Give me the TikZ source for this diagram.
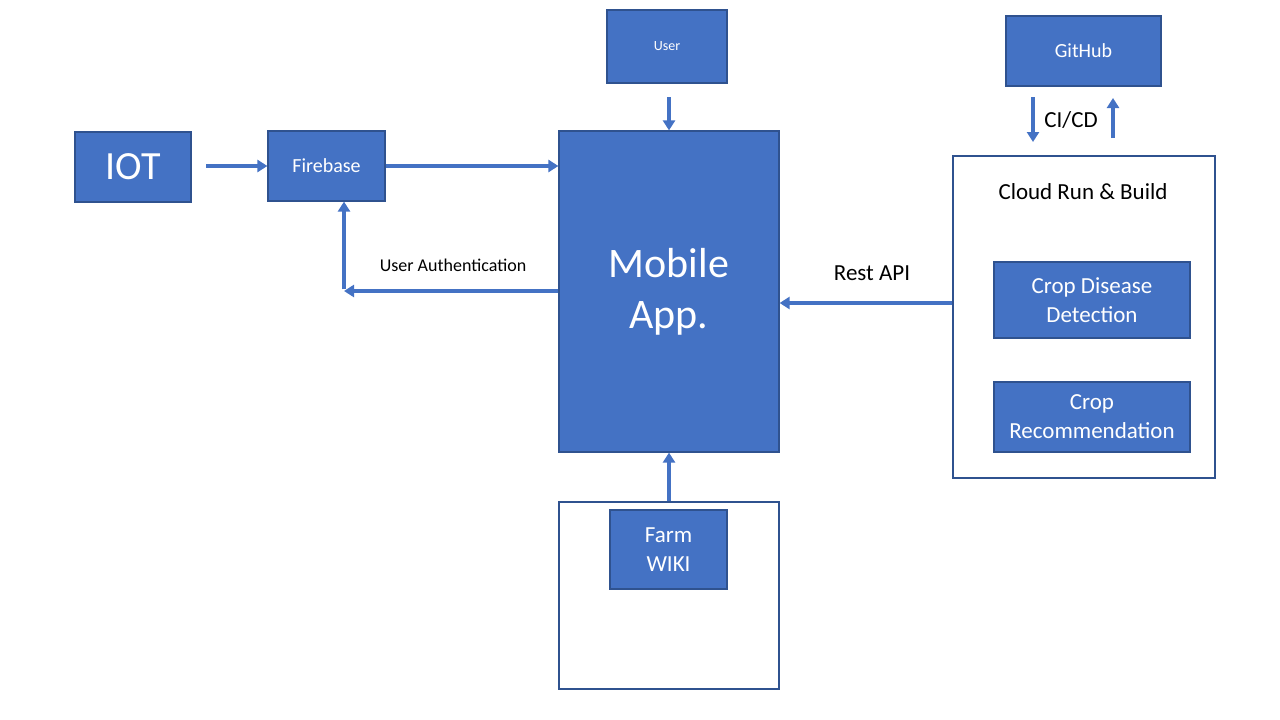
\documentclass[tikz,border=0pt]{standalone}
\usepackage{fontspec}
\setmainfont{Carlito}
\usetikzlibrary{arrows.meta}
\definecolor{boxblue}{HTML}{4472C4}
\definecolor{boxline}{HTML}{2F528F}
\tikzset{
  bluebox/.style={draw=boxline, line width=1.2pt, fill=boxblue, text=white, align=center, inner sep=0pt},
  whitebox/.style={draw=boxline, line width=1.2pt, fill=white, inner sep=0pt},
  flow/.style={draw=boxblue, line width=3.5pt, -{Triangle[width=12pt,length=10pt]}},
  lbl/.style={text=black, inner sep=0pt, align=center}
}
\begin{document}
\begin{tikzpicture}[x=1pt,y=-1pt]
\useasboundingbox (0,0) rectangle (1280,720);
% boxes
\node[bluebox, minimum width=116pt, minimum height=70pt, font=\fontsize{40}{48}\selectfont] (iot) at (133,167) {IOT};
\node[bluebox, minimum width=117pt, minimum height=70pt, font=\fontsize{20}{24}\selectfont] (fire) at (326.5,166) {\raisebox{-1pt}{Firebase}};
\node[bluebox, minimum width=220pt, minimum height=321pt, font=\fontsize{42}{51}\selectfont] (mobile) at (669,291.5) {Mobile\\App.};
\node[bluebox, minimum width=120pt, minimum height=73pt, font=\fontsize{14}{17}\selectfont] (user) at (667,46.5) {\raisebox{-1.5pt}{User}};
\node[bluebox, minimum width=155pt, minimum height=70pt, font=\fontsize{20}{24}\selectfont] (git) at (1083.5,51) {\raisebox{-1pt}{GitHub}};
\node[whitebox, minimum width=262pt, minimum height=322pt] (cloud) at (1084,317) {};
\node[lbl, font=\fontsize{23}{28}\selectfont] (cloudlbl) at (1083,192) {Cloud Run \& Build};
\node[bluebox, minimum width=196pt, minimum height=76pt, font=\fontsize{23}{29}\selectfont] (cdd) at (1092,300) {Crop Disease\\Detection};
\node[bluebox, minimum width=196pt, minimum height=70pt, font=\fontsize{23}{29}\selectfont] (crec) at (1092,417) {Crop\\Recommendation};
\node[whitebox, minimum width=220pt, minimum height=187pt] (farmout) at (669,595.5) {};
\node[bluebox, minimum width=117pt, minimum height=79pt, font=\fontsize{23}{29}\selectfont] (farm) at (668.5,549.5) {Farm\\WIKI};
% labels
\node[lbl, font=\fontsize{18}{22}\selectfont] (authlbl) at (453,265) {User Authentication};
\node[lbl, font=\fontsize{23}{28}\selectfont] (restlbl) at (872,273) {Rest API};
\node[lbl, font=\fontsize{23}{28}\selectfont] (cicdlbl) at (1071,120) {CI/CD};
% coordinates
\coordinate (iotout) at (206,166);
\coordinate (corner) at (344,291);
\coordinate (userout) at (669,97);
\coordinate (gdown1) at (1033,97);
\coordinate (gdown2) at (1033,142);
\coordinate (gup1) at (1113,138);
\coordinate (gup2) at (1113,98);
% connectors
\draw[flow] (iotout) -- (fire.west);
\draw[flow] (fire.east) -- (mobile.west |- fire.east);
\draw[flow] (mobile.west |- corner) -- (corner);
\draw[flow] ([yshift=1.75pt]corner) -- (fire.south -| corner);
\draw[flow] (userout) -- (mobile.north -| userout);
\draw[flow] (gdown1) -- (gdown2);
\draw[flow] (gup1) -- (gup2);
\draw[flow] (cloud.west |- 0,303) -- (mobile.east |- 0,303);
\draw[flow] (farmout.north -| 669,0) -- (mobile.south -| 669,0);
\end{tikzpicture}
\end{document}
